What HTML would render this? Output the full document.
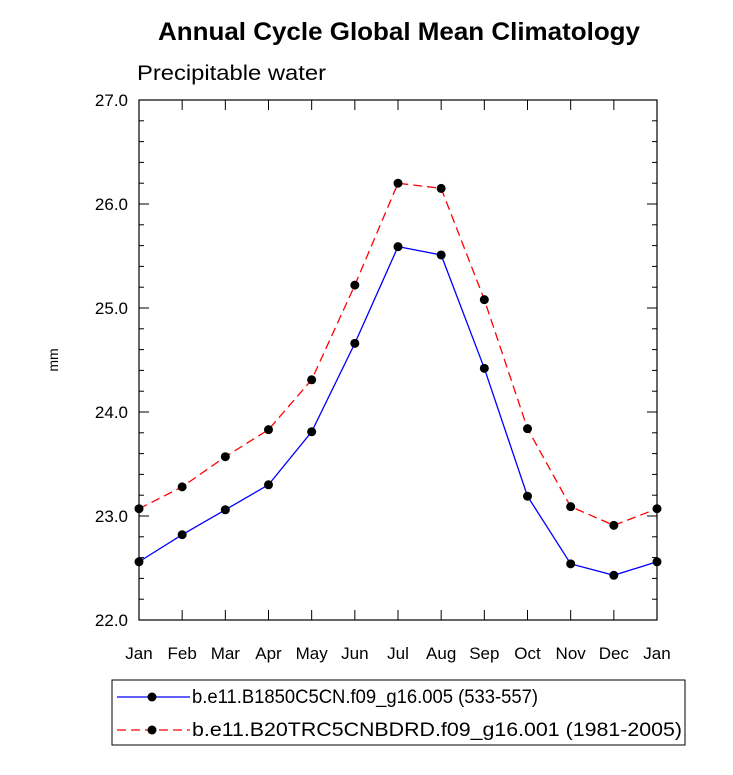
<!DOCTYPE html>
<html><head><meta charset="utf-8"><style>
body{margin:0;background:#fff;}
svg text{font-family:"Liberation Sans",Arial,sans-serif;}
</style></head><body>
<svg id="chart" width="733" height="770" xmlns="http://www.w3.org/2000/svg">
<text x="158" y="40" font-size="25" font-weight="bold" textLength="482" lengthAdjust="spacingAndGlyphs">Annual Cycle Global Mean Climatology</text>
<text x="137" y="80" font-size="21" textLength="189" lengthAdjust="spacingAndGlyphs">Precipitable water</text>
<text transform="translate(58,360) rotate(-90)" text-anchor="middle" font-size="14">mm</text>
<rect x="139" y="100" width="518" height="520" fill="none" stroke="#000" stroke-width="1.2"/>
<g id="axes"></g>
<g id="series"></g>
<g>
<rect x="112" y="680" width="573" height="65" fill="none" stroke="#000" stroke-width="1"/>
<line x1="117" y1="697" x2="190" y2="697" stroke="#0000ff" stroke-width="1.3"/>
<circle cx="152" cy="697" r="4.5" fill="#000"/>
<text x="192" y="703" font-size="19" textLength="346" lengthAdjust="spacingAndGlyphs">b.e11.B1850C5CN.f09_g16.005 (533-557)</text>
<line x1="117" y1="730" x2="190" y2="730" stroke="#ff0000" stroke-width="1.3" stroke-dasharray="9,5"/>
<circle cx="152" cy="730" r="4.5" fill="#000"/>
<text x="192" y="736" font-size="19" textLength="490" lengthAdjust="spacingAndGlyphs">b.e11.B20TRC5CNBDRD.f09_g16.001 (1981-2005)</text>
</g>
</svg>
<script>
const months=["Jan","Feb","Mar","Apr","May","Jun","Jul","Aug","Sep","Oct","Nov","Dec","Jan"];
const controlValues=[22.56,22.82,23.06,23.30,23.81,24.66,25.59,25.51,24.42,23.19,22.54,22.43,22.56];
const histValues=[23.07,23.28,23.57,23.83,24.31,25.22,26.20,26.15,25.08,23.84,23.09,22.91,23.07];
const yTicks=[22.0,23.0,24.0,25.0,26.0,27.0];
const yMin=22,yMax=27;
const L=139,R=657,T=100,B=620;
const NS="http://www.w3.org/2000/svg";
function xs(i){return L+(R-L)*i/(months.length-1);}
function ys(v){return B-(v-yMin)/(yMax-yMin)*(B-T);}
function mk(tag,attrs,parent){const e=document.createElementNS(NS,tag);for(const k in attrs)e.setAttribute(k,attrs[k]);parent.appendChild(e);return e;}
const axes=document.getElementById('axes');
months.forEach((m,i)=>{
 const x=xs(i);
 const t1=mk('line',{x1:x,y1:B,x2:x,y2:B-10,stroke:'#000','stroke-width':1},axes);
 
 
 mk('line',{x1:x,y1:T,x2:x,y2:T+10,stroke:'#000','stroke-width':1},axes);
 const tx=mk('text',{x:x,y:B+39,'text-anchor':'middle','font-size':17},axes);
 tx.textContent=m;
 
 
});
for(let v=yMin;v<=yMax+1e-9;v+=0.2){
 const y=ys(v);const major=Math.abs(v-Math.round(v))<1e-6;const len=major?10:5;
 mk('line',{x1:L,y1:y,x2:L+len,y2:y,stroke:'#000','stroke-width':1},axes);
 mk('line',{x1:R,y1:y,x2:R-len,y2:y,stroke:'#000','stroke-width':1},axes);
}
yTicks.forEach(v=>{
 const tx=mk('text',{x:128,y:ys(v)+6,'text-anchor':'end','font-size':17},axes);
 tx.textContent=v.toFixed(1);
 
 
});
const ser=document.getElementById('series');
function draw(vals,color,dash,name){
 const p=mk('polyline',{points:vals.map((v,i)=>xs(i)+','+ys(v)).join(' '),fill:'none',stroke:color,'stroke-width':1.3},ser);
 if(dash)p.setAttribute('stroke-dasharray',dash);
 
 
 vals.forEach((v,i)=>{
  const c=mk('circle',{cx:xs(i),cy:ys(v),r:4.5,fill:'#000'},ser);
  
  
 });
}
draw(controlValues,'#0000ff',null,'control');
draw(histValues,'#ff0000','9,5','historical');
</script>
</body></html>
